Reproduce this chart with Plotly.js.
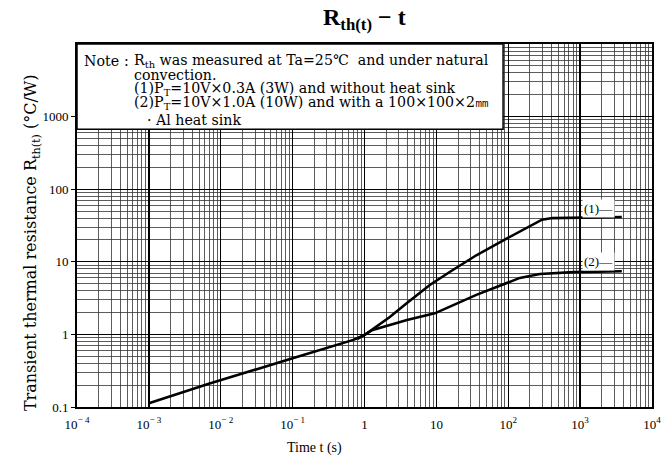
<!DOCTYPE html>
<html><head><meta charset="utf-8">
<script src="https://cdn.plot.ly/plotly-3.0.1.min.js"></script>
<style>html,body{margin:0;padding:0;background:#fff}#c{width:667px;height:455px}</style>
</head><body><div id="c"></div>
<script>
// Curve (1): 3W, without heat sink
const t1 = [0.001, 0.007, 0.1, 0.7, 1.0, 1.5, 2.25, 3.9, 8.1, 15.5, 36, 96, 295, 410, 3800];
const r1 = [0.113, 0.21, 0.47, 0.84, 0.98, 1.3, 1.74, 2.7, 4.8, 7.3, 12.3, 21, 38, 40, 41.5];
// Curve (2): 10W, with heat sink
const t2 = [0.8, 1.3, 3.9, 9.5, 36, 145, 275, 800, 3800];
const r2 = [0.87, 1.15, 1.58, 1.95, 3.5, 6.0, 6.8, 7.2, 7.4];
const xTickVals = [1e-4, 1e-3, 1e-2, 1e-1, 1, 10, 100, 1000, 10000];
const xTickText = ['10<sup>\u2212 4</sup>', '10<sup>\u2212 3</sup>', '10<sup>\u2212 2</sup>', '10<sup>\u2212 1</sup>', '1', '10', '10<sup>2</sup>', '10<sup>3</sup>', '10<sup>4</sup>'];
const yTickVals = [0.1, 1, 10, 100, 1000];
const yTickText = ['0.1', '1', '10', '100', '1000'];
const noteLines = [
  'R<sub>th</sub> was measured at Ta=25\u2103\u00a0\u00a0and under natural',
  'convection.',
  '(1)P<sub>T</sub>=10V\u00d70.3A (3W) and without heat sink',
  '(2)P<sub>T</sub>=10V\u00d71.0A (10W) and with a 100\u00d7100\u00d72\u339c',
  '\u00b7 Al heat sink'
];
const curveLabels = ['(1)', '(2)'];

const F = 'Liberation Serif, Times New Roman, serif';
const FW = 'DejaVu Serif, serif';
const lineStyle = {color: '#000', width: 2.6};
const traces = [
  {x: t1, y: r1, mode: 'lines', line: lineStyle, hoverinfo: 'none'},
  {x: t2, y: r2, mode: 'lines', line: lineStyle, hoverinfo: 'none'}
];
const axisCommon = {
  type: 'log', showline: true, mirror: true, linecolor: '#000', linewidth: 2,
  showgrid: true, gridcolor: '#000', gridwidth: 1.3, zeroline: false,
  ticks: '', tickfont: {family: F, size: 13, color: '#000'},
  minor: {dtick: 'D1', showgrid: true, gridcolor: '#333', gridwidth: 0.8, ticks: ''}
};
const noteX = [0.0957, 0.0957, 0.0957, 0.0957, 0.118];
const noteY = [0.952, 0.915, 0.876, 0.838, 0.792];
const NF = 14.2;
const annotations = [
  {xref: 'paper', yref: 'paper', x: 0.0087, y: noteY[0], xanchor: 'left', yanchor: 'middle', text: 'Note', showarrow: false, font: {family: FW, size: NF, color: '#000'}},
  {xref: 'paper', yref: 'paper', x: 0.079, y: noteY[0], xanchor: 'left', yanchor: 'middle', text: ':', showarrow: false, font: {family: FW, size: NF, color: '#000'}},
  {xref: 'paper', yref: 'paper', x: 0.5, y: 1.068, xanchor: 'center', yanchor: 'middle', text: '<b>R<sub>th(t)</sub> \u2212 t</b>', showarrow: false, font: {family: F, size: 24, color: '#000'}},
  {xref: 'paper', yref: 'paper', x: 0.413, y: -0.085, xanchor: 'center', yanchor: 'top', text: 'Time t (s)', showarrow: false, font: {family: F, size: 14, color: '#000'}},
  {xref: 'paper', yref: 'paper', x: -0.078, y: 0.452, xanchor: 'center', yanchor: 'middle', textangle: -90, text: 'Transient thermal resistance R<sub>th(t)</sub> (\u00b0C/W)', showarrow: false, font: {family: FW, size: 16, color: '#000'}},
  {x: 3.25, y: Math.log10(r1[r1.length-1]) + 0.11, xanchor: 'center', yanchor: 'middle', text: curveLabels[0] + '\u2014', showarrow: false, bgcolor: '#fff', font: {family: F, size: 13, color: '#000'}},
  {x: 3.25, y: Math.log10(r2[r2.length-1]) + 0.13, xanchor: 'center', yanchor: 'middle', text: curveLabels[1] + '\u2014', showarrow: false, bgcolor: '#fff', font: {family: F, size: 13, color: '#000'}}
];
noteLines.forEach((s, i) => annotations.push({xref: 'paper', yref: 'paper', x: noteX[i], y: noteY[i], xanchor: 'left', yanchor: 'middle', text: s, showarrow: false, font: {family: FW, size: NF, color: '#000'}}));

const layout = {
  width: 667, height: 455,
  margin: {l: 77, r: 15, t: 44, b: 48},
  paper_bgcolor: '#fff', plot_bgcolor: '#fff',
  showlegend: false,
  xaxis: Object.assign({}, axisCommon, {range: [-4, 4], tickvals: xTickVals, ticktext: xTickText, ticklabelstandoff: 4}),
  yaxis: Object.assign({}, axisCommon, {range: [-1, 4], tickvals: yTickVals, ticktext: yTickText, ticks: 'outside', ticklen: 4, tickcolor: '#000'}),
  shapes: [{type: 'rect', xref: 'paper', yref: 'paper', x0: 0, x1: 0.741, y0: 0.765, y1: 1, fillcolor: '#fff', line: {color: '#000', width: 1.5}, layer: 'above'}],
  annotations: annotations
};
Plotly.newPlot('c', traces, layout, {staticPlot: true});
</script></body></html>
